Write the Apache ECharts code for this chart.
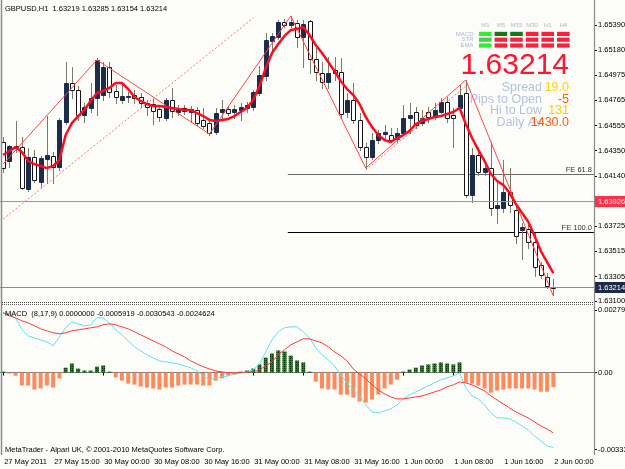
<!DOCTYPE html>
<html><head><meta charset="utf-8">
<script src="https://cdn.jsdelivr.net/npm/echarts@6/dist/echarts.min.js"></script>
<style>html,body{margin:0;padding:0;background:#fcfdf9}#c{width:625px;height:469px}</style>
</head><body><div id="c"></div>
<script>
// ---------- DATA ----------
const barOpen = [1.64420,1.64262,1.64387,1.64378,1.64030,1.64296,1.64088,1.64279,1.64304,1.64213,
1.64586,1.64909,1.64851,1.64644,1.64702,1.64785,1.64809,1.65042,1.64843,1.64768,
1.64789,1.64809,1.64793,1.64743,1.64735,1.64693,1.64619,1.64768,1.64669,1.64702,
1.64669,1.64685,1.64602,1.64577,1.64503,1.64669,1.64693,1.64669,1.64685,1.64702,
1.64710,1.64826,1.64967,1.65257,1.65290,1.65415,1.65390,1.65406,1.65290,1.65423,
1.65108,1.64992,1.64917,1.65017,1.65000,1.64669,1.64768,1.64602,1.64378,1.64296,
1.64436,1.64486,1.64478,1.64445,1.64494,1.64619,1.64669,1.64577,1.64669,1.64627,
1.64669,1.64751,1.64644,1.64702,1.64826,1.63980,1.64312,1.64171,1.64204,1.63873,
1.63873,1.64005,1.63856,1.63690,1.63699,1.63591,1.63400,1.63301,1.63219];
const barHigh = [1.64461,1.64395,1.64594,1.64461,1.64370,1.64354,1.64304,1.64635,1.64337,1.64619,
1.65083,1.65042,1.64884,1.64743,1.64909,1.65116,1.65083,1.65083,1.64892,1.64892,
1.64834,1.64851,1.64826,1.64768,1.64776,1.64727,1.64785,1.64868,1.64727,1.64727,
1.64718,1.64710,1.64702,1.64619,1.64702,1.64768,1.64718,1.64727,1.64743,1.64751,
1.64851,1.65050,1.65323,1.65323,1.65431,1.65440,1.65464,1.65431,1.65431,1.65431,
1.65199,1.65083,1.65125,1.65125,1.65116,1.64826,1.64909,1.64660,1.64412,1.64494,
1.64519,1.64561,1.64536,1.64536,1.64727,1.64743,1.64710,1.64685,1.64710,1.64743,
1.64785,1.64793,1.64702,1.64892,1.64934,1.64370,1.64378,1.64246,1.64420,1.64080,
1.64271,1.64204,1.63898,1.63748,1.63732,1.63665,1.63425,1.63334,1.63285];
const barLow = [1.64171,1.64213,1.64337,1.64030,1.64014,1.64088,1.64047,1.64080,1.64080,1.64188,
1.64569,1.64785,1.64602,1.64586,1.64669,1.64644,1.64768,1.64793,1.64743,1.64743,
1.64751,1.64743,1.64710,1.64644,1.64569,1.64594,1.64602,1.64627,1.64644,1.64652,
1.64586,1.64561,1.64536,1.64478,1.64486,1.64602,1.64644,1.64619,1.64602,1.64669,
1.64685,1.64809,1.64934,1.65183,1.65274,1.65373,1.65373,1.65207,1.65042,1.64992,
1.64934,1.64868,1.64868,1.64934,1.64619,1.64627,1.64577,1.64354,1.64204,1.64279,
1.64412,1.64436,1.64420,1.64420,1.64478,1.64494,1.64536,1.64561,1.64586,1.64611,
1.64660,1.64586,1.64378,1.64685,1.63964,1.63922,1.64146,1.64146,1.63815,1.63748,
1.63840,1.63840,1.63583,1.63450,1.63541,1.63309,1.63292,1.63210,1.63154];
const barClose = [1.64204,1.64387,1.64370,1.64039,1.64296,1.64105,1.64287,1.64312,1.64213,1.64602,
1.64909,1.64851,1.64644,1.64710,1.64785,1.65100,1.65042,1.64834,1.64793,1.64801,
1.64801,1.64785,1.64743,1.64710,1.64677,1.64627,1.64768,1.64677,1.64702,1.64677,
1.64693,1.64577,1.64553,1.64494,1.64660,1.64693,1.64660,1.64693,1.64710,1.64727,
1.64834,1.64975,1.65265,1.65299,1.65415,1.65390,1.65415,1.65290,1.65398,1.65108,
1.65000,1.64917,1.64992,1.64992,1.64652,1.64768,1.64602,1.64378,1.64296,1.64436,
1.64494,1.64503,1.64436,1.64494,1.64619,1.64644,1.64561,1.64619,1.64627,1.64685,
1.64751,1.64619,1.64619,1.64809,1.63980,1.64312,1.64171,1.64204,1.63873,1.63898,
1.64005,1.63898,1.63641,1.63715,1.63591,1.63384,1.63317,1.63226,1.63214];
const emaValues = [1.64312,1.64345,1.64378,1.64337,1.64262,1.64237,1.64221,1.64204,1.64221,1.64271,
1.64478,1.64577,1.64635,1.64685,1.64760,1.64826,1.64843,1.64868,1.64909,1.64909,
1.64859,1.64793,1.64760,1.64735,1.64718,1.64718,1.64710,1.64702,1.64693,1.64685,
1.64685,1.64660,1.64635,1.64602,1.64594,1.64602,1.64611,1.64635,1.64669,1.64702,
1.64768,1.64884,1.65033,1.65158,1.65232,1.65299,1.65348,1.65357,1.65373,1.65307,
1.65224,1.65158,1.65083,1.65008,1.64926,1.64859,1.64809,1.64735,1.64627,1.64544,
1.64478,1.64436,1.64420,1.64453,1.64478,1.64511,1.64569,1.64594,1.64611,1.64627,
1.64635,1.64652,1.64669,1.64702,1.64569,1.64453,1.64354,1.64262,1.64155,1.64097,
1.64063,1.63997,1.63906,1.63831,1.63757,1.63641,1.63516,1.63425,1.63334];
const zigzagBars = [0,15,33,46,58,74,88];
const zigzagPrices = [1.64237,1.65100,1.64486,1.65464,1.64204,1.64934,1.63143];
const channelBars = [[0,40],[58,74]];
const channelPrices = [[1.63781,1.65448],[1.64188,1.64884]];
const feStartBar = 46;
const feLevels = [1.64155,1.63671];
const feNames = ['FE 61.8','FE 100.0'];
const redLevel = 1.63926;
const bidLevel = 1.63214;
const priceTicks = [1.65390,1.65180,1.64975,1.64765,1.64555,1.64350,1.64140,1.63725,1.63515,1.63305,1.63100];

const macdHist = [0.00002,-0.00002,-0.00013,-0.00053,-0.00053,-0.00069,-0.00065,-0.00053,-0.00061,-0.00024,
0.00020,0.00037,0.00016,0.00008,0.00008,0.00024,0.00029,0.00002,-0.00020,-0.00033,
-0.00045,-0.00049,-0.00057,-0.00061,-0.00065,-0.00069,-0.00061,-0.00061,-0.00053,-0.00049,
-0.00049,-0.00049,-0.00053,-0.00053,-0.00033,-0.00024,-0.00012,-0.00008,0.00002,0.00008,
0.00016,0.00033,0.00061,0.00078,0.00090,0.00086,0.00069,0.00049,0.00041,0.00002,
-0.00037,-0.00065,-0.00069,-0.00069,-0.00090,-0.00090,-0.00102,-0.00118,-0.00122,-0.00110,
-0.00090,-0.00065,-0.00049,-0.00029,0.00002,0.00012,0.00020,0.00029,0.00033,0.00037,
0.00041,0.00037,0.00033,0.00041,-0.00041,-0.00045,-0.00053,-0.00065,-0.00082,-0.00073,
-0.00069,-0.00065,-0.00065,-0.00065,-0.00065,-0.00069,-0.00078,-0.00078,-0.0005919];
const macdMain = [0.002437,0.002396,0.002233,0.001743,0.001498,0.001416,0.001335,0.001253,0.001090,0.001457,
0.001825,0.002070,0.001988,0.001906,0.001947,0.002233,0.002233,0.002029,0.001743,0.001539,
0.001294,0.001049,0.000886,0.000723,0.000600,0.000478,0.000437,0.000396,0.000355,0.000273,
0.000192,0.000069,-0.000135,-0.000298,-0.000216,-0.000176,-0.000135,-0.000053,-0.000012,0.000029,
0.000110,0.000355,0.000845,0.001335,0.001661,0.001825,0.001865,0.001865,0.001661,0.001416,
0.001008,0.000723,0.000518,0.000273,-0.000094,-0.000420,-0.000706,-0.000951,-0.001318,-0.001604,
-0.001645,-0.001563,-0.001482,-0.001318,-0.001074,-0.000910,-0.000788,-0.000665,-0.000543,-0.000420,
-0.000298,-0.000216,-0.000135,-0.000012,-0.000625,-0.000951,-0.001074,-0.001318,-0.001645,-0.001849,
-0.001849,-0.001890,-0.002012,-0.002176,-0.002339,-0.002584,-0.002788,-0.002992,-0.0030543];
const macdSignal = [0.002437,0.002314,0.002233,0.002110,0.002029,0.001906,0.001784,0.001702,0.001621,0.001580,
0.001621,0.001702,0.001743,0.001784,0.001825,0.001865,0.001947,0.001988,0.001947,0.001865,
0.001784,0.001661,0.001539,0.001416,0.001294,0.001172,0.001049,0.000886,0.000763,0.000641,
0.000478,0.000355,0.000233,0.000151,0.000069,0.000029,-0.000012,-0.000012,-0.000012,0.000029,
0.000029,0.000110,0.000273,0.000437,0.000723,0.000927,0.001131,0.001253,0.001376,0.001376,
0.001294,0.001212,0.001049,0.000845,0.000682,0.000478,0.000151,-0.000053,-0.000257,-0.000502,
-0.000706,-0.000869,-0.000992,-0.001074,-0.001074,-0.001033,-0.000992,-0.000951,-0.000869,-0.000788,
-0.000706,-0.000584,-0.000502,-0.000380,-0.000420,-0.000502,-0.000625,-0.000747,-0.000951,-0.001114,
-0.001278,-0.001441,-0.001604,-0.001727,-0.001849,-0.002012,-0.002176,-0.002298,-0.0024624];
const macdTickLabels = ['0.002796','0.00','-0.003334'];
const macdTickAt = [0.002552,0,-0.003135];

const timeLabels = ['27 May 2011','27 May 15:00','30 May 00:00','30 May 08:00','30 May 16:00','31 May 00:00',
'31 May 08:00','31 May 16:00','1 Jun 00:00','1 Jun 08:00','1 Jun 16:00','2 Jun 00:00'];
const labelStep = 8;
const slotCount = 95;

const panelCols = ['M1','M5','M15','M30','H1','H4'];
const panelRows = ['MACD','STR','EMA'];
const panelStates = [[2,1,1,-1,-1,-1],[3,-1,-1,-1,-1,-1],[2,-1,-1,-1,-1,-1]];
const infoLabels = ['Spread','Pips to Open','Hi to Low','Daily Av'];
const infoValues = ['19.0','-5','131','1430.0'];

// ---------- BUILD ----------
const FONT = '"Liberation Sans", Arial, sans-serif';
const cats = Array.from({length: slotCount}, (_, i) => String(i));
const nBars = barOpen.length;
const candleData = barOpen.map((o, i) => [i, o, barClose[i], barLow[i], barHigh[i]]);
const zigzag = new Array(nBars).fill(null);
zigzagBars.forEach((b, k) => { zigzag[b] = zigzagPrices[k]; });
const channels = channelBars.map((bars, k) => {
  const arr = new Array(nBars).fill(null);
  arr[bars[0]] = channelPrices[k][0]; arr[bars[1]] = channelPrices[k][1];
  return arr;
});
const histPos = macdHist.map(v => v >= 0 ? v : '-');
const histNeg = macdHist.map(v => v < 0 ? v : '-');
const cellData = [];
panelStates.forEach((row, r) => row.forEach((s, c) => cellData.push([c, r, s])));
const stateColors = {'2': '#2cf02c', '3': '#46d246', '1': '#137a17', '-1': '#ff1e3c'};

function renderCandle(params, api) {
  const i = api.value(0), o = api.value(1), c = api.value(2), l = api.value(3), h = api.value(4);
  const po = api.coord([i, o]);
  const cx = Math.round(po[0]) + 0.5;
  const yo = Math.round(po[1]) + 0.5;
  const yc = Math.round(api.coord([i, c])[1]) + 0.5;
  const yh = Math.round(api.coord([i, h])[1]);
  const yl = Math.round(api.coord([i, l])[1]) + 1;
  const bull = c > o;
  const top = Math.min(yo, yc), hgt = Math.abs(yo - yc);
  return {type: 'group', children: [
    {type: 'line', shape: {x1: cx, y1: yh, x2: cx, y2: yl}, style: {stroke: '#7a7a6a', lineWidth: 1}},
    {type: 'rect', shape: {x: cx - 2, y: top, width: 4, height: hgt},
     style: {fill: bull ? '#1c2c4c' : '#ffffff', stroke: bull ? '#1c2c4c' : '#151515', lineWidth: 1}}
  ]};
}
function renderLevel(params, api) {
  const idx = api.value(2);
  const p = api.coord([api.value(0), api.value(1)]);
  const right = params.coordSys.x + params.coordSys.width;
  const y = Math.round(p[1]) + 0.5;
  const col = idx === 0 ? '#6a6a6a' : '#000000';
  return {type: 'group', children: [
    {type: 'line', shape: {x1: p[0] - 3, y1: y, x2: right, y2: y}, style: {stroke: col, lineWidth: 1}},
    {type: 'text', style: {text: feNames[idx], x: right - 2, y: y - 1, align: 'right', verticalAlign: 'bottom',
      textAlign: 'right', textVerticalAlign: 'bottom', fill: '#333', font: '7.5px ' + FONT}}
  ]};
}
function renderCell(params, api) {
  const p = api.coord([api.value(0), api.value(1)]);
  const s = api.size([1, 1]);
  const w = s[0] - 3, h = s[1] - 1.6;
  return {type: 'rect', shape: {x: p[0] - w / 2, y: p[1] - h / 2, width: w, height: h},
    style: {fill: stateColors[String(api.value(2))]}};
}

const tickShow = (i) => i % labelStep === 0 && i < nBars;
const gText = (text, x, y, opts) => Object.assign({type: 'text', z: 100, x: x, y: y,
  style: Object.assign({text: text, fill: '#000', font: '7.5px ' + FONT, align: 'left', verticalAlign: 'middle',
    textAlign: 'left', textVerticalAlign: 'middle'}, opts || {})});

const graphics = [
  {type: 'line', z: 90, shape: {x1: 1.5, y1: 0, x2: 1.5, y2: 455}, style: {stroke: '#8a8a8a', lineWidth: 1.5}},
  {type: 'line', z: 90, shape: {x1: 594.5, y1: 0, x2: 594.5, y2: 455}, style: {stroke: '#8a8a8a', lineWidth: 1.2}},
  {type: 'line', z: 90, shape: {x1: 2, y1: 302.5, x2: 594, y2: 302.5}, style: {stroke: '#404040', lineWidth: 1, lineDash: [1, 1]}},
  {type: 'line', z: 90, shape: {x1: 2, y1: 304.5, x2: 594, y2: 304.5}, style: {stroke: '#606060', lineWidth: 1, lineDash: [1, 1]}},
  gText('GBPUSD,H1  ' + [barOpen[nBars-1], barHigh[nBars-1], barLow[nBars-1], barClose[nBars-1]].map(v => v.toFixed(5)).join(' '), 5, 8.5),
  gText('MACD  (8,17,9) 0.0000000 ' + [macdHist[nBars-1], macdMain[nBars-1], macdSignal[nBars-1]].map(v => v.toFixed(7)).join(' '), 5, 313.5),
  gText('MetaTrader - Alpari UK, \u00a9 2001-2010 MetaQuotes Software Corp.', 5, 449.5),
  gText(barClose[nBars-1].toFixed(5), 569, 66, {fill: '#ff1430', font: '30px ' + FONT, align: 'right', textAlign: 'right'})
];
const valueColors = ['#ffd000', '#ff5a14', '#ffcc00', '#ff5a14'];
infoLabels.forEach((t, k) => {
  graphics.push(gText(t, 542, 88 + k * 11.5, {fill: '#b4c2dc', font: '12.5px ' + FONT, align: 'right', textAlign: 'right'}));
});
infoValues.forEach((t, k) => {
  graphics.push(gText(t, 569, 88 + k * 11.5, {fill: valueColors[k], font: '12.5px ' + FONT, align: 'right', textAlign: 'right'}));
});

const option = {
  animation: false,
  backgroundColor: '#fcfdf9',
  textStyle: {fontFamily: FONT},
  grid: [
    {left: 0, top: 0, width: 594, height: 302, containLabel: false, outerBoundsMode: 'none'},
    {left: 0, top: 304, width: 594, height: 150.5, containLabel: false, outerBoundsMode: 'none'},
    {left: 477.5, top: 31, width: 93.6, height: 17.4, containLabel: false, outerBoundsMode: 'none'}
  ],
  xAxis: [
    {gridIndex: 0, type: 'category', data: cats, boundaryGap: true, show: false},
    {gridIndex: 1, type: 'category', data: cats, boundaryGap: true,
     axisLine: {show: true, lineStyle: {color: '#7a7a7a', width: 1}},
     axisTick: {show: true, alignWithLabel: true, interval: tickShow, length: 3, lineStyle: {color: '#000'}},
     axisLabel: {show: true, interval: tickShow, formatter: (v) => timeLabels[Number(v) / labelStep] || '',
       align: 'left', padding: [0, 0, 0, 1], margin: 3.5, fontSize: 7.5, color: '#000', fontFamily: FONT},
     splitLine: {show: false}},
    {gridIndex: 2, type: 'category', data: panelCols, position: 'top',
     axisLine: {show: false}, axisTick: {show: false},
     axisLabel: {interval: 0, fontSize: 6, color: '#a9b6d3', margin: 3, fontFamily: FONT}}
  ],
  yAxis: [
    {gridIndex: 0, type: 'value', position: 'right', min: 1.63094, max: 1.65597,
     splitLine: {show: false},
     axisLine: {show: true, lineStyle: {color: '#8a8a8a'}},
     axisTick: {show: true, length: 3, customValues: priceTicks, lineStyle: {color: '#000'}},
     axisLabel: {customValues: priceTicks, formatter: (v) => v.toFixed(5), fontSize: 7.5, color: '#000', margin: 4, fontFamily: FONT}},
    {gridIndex: 1, type: 'value', position: 'right', min: -0.00334, max: 0.002796,
     splitLine: {show: false},
     axisLine: {show: true, lineStyle: {color: '#8a8a8a'}},
     axisTick: {show: true, length: 3, customValues: macdTickAt, lineStyle: {color: '#000'}},
     axisLabel: {customValues: macdTickAt, formatter: (v) => {
        const k = macdTickAt.findIndex(t => Math.abs(t - v) < 1e-7); return k >= 0 ? macdTickLabels[k] : ''; },
       fontSize: 7.5, color: '#000', margin: 4, fontFamily: FONT}},
    {gridIndex: 2, type: 'category', data: panelRows, inverse: true,
     axisLine: {show: false}, axisTick: {show: false},
     axisLabel: {interval: 0, fontSize: 6, color: '#a9b6d3', margin: 4, fontFamily: FONT}}
  ],
  graphic: graphics,
  series: [
    {type: 'line', name: 'chan0', xAxisIndex: 0, yAxisIndex: 0, data: channels[0], connectNulls: true, showSymbol: false, silent: true,
     lineStyle: {color: '#ff6f6f', width: 1, type: [2, 2]}, z: 2},
    {type: 'line', name: 'chan1', xAxisIndex: 0, yAxisIndex: 0, data: channels[1], connectNulls: true, showSymbol: false, silent: true,
     lineStyle: {color: '#ff6f6f', width: 1, type: [2, 2]}, z: 2},
    {type: 'custom', name: 'fe', xAxisIndex: 0, yAxisIndex: 0, data: feLevels.map((v, k) => [feStartBar, v, k]),
     renderItem: renderLevel, silent: true, z: 2},
    {type: 'custom', name: 'candles', xAxisIndex: 0, yAxisIndex: 0, data: candleData, renderItem: renderCandle,
     encode: {x: 0, y: [1, 2, 3, 4]}, silent: true, z: 3},
    {type: 'line', name: 'zigzag', xAxisIndex: 0, yAxisIndex: 0, data: zigzag, connectNulls: true, showSymbol: false, silent: true,
     lineStyle: {color: '#ff4545', width: 1}, z: 4},
    {type: 'line', name: 'ema', xAxisIndex: 0, yAxisIndex: 0, data: emaValues, showSymbol: false, silent: true,
     lineStyle: {color: '#ff0a1e', width: 2.5}, z: 5,
     markLine: {symbol: ['none', 'none'], silent: true, animation: false, precision: 5,
       data: [
         {yAxis: redLevel, lineStyle: {color: '#ff6a6a', width: 1, type: 'solid'},
          label: {show: true, position: 'end', distance: 1, formatter: (p) => Number(p.value).toFixed(5), color: '#fff',
            backgroundColor: '#ff3048', padding: [2, 3, 1, 3], fontSize: 7.5, fontFamily: FONT}},
         {yAxis: bidLevel, lineStyle: {color: '#8c8c8c', width: 1, type: 'solid'},
          label: {show: true, position: 'end', distance: 1, formatter: (p) => Number(p.value).toFixed(5), color: '#fff',
            backgroundColor: '#1e2b46', padding: [2, 3, 1, 3], fontSize: 7.5, fontFamily: FONT}}
       ]}},
    {type: 'bar', name: 'histPos', xAxisIndex: 1, yAxisIndex: 1, data: histPos, barWidth: 4, barGap: '-100%', barMinHeight: 1, silent: true,
     itemStyle: {color: '#128a12', decal: {symbol: 'rect', symbolSize: 1, color: 'rgba(0,30,0,0.75)', dashArrayX: [1, 1], dashArrayY: [1, 1]}}},
    {type: 'bar', name: 'histNeg', xAxisIndex: 1, yAxisIndex: 1, data: histNeg, barWidth: 4, barGap: '-100%', barMinHeight: 1, silent: true,
     itemStyle: {color: '#ff8a5c'}},
    {type: 'line', name: 'macd', xAxisIndex: 1, yAxisIndex: 1, data: macdMain, showSymbol: false, silent: true,
     lineStyle: {color: '#5fe3f3', width: 1}, z: 4},
    {type: 'line', name: 'signal', xAxisIndex: 1, yAxisIndex: 1, data: macdSignal, showSymbol: false, silent: true,
     lineStyle: {color: '#ff3a3a', width: 1}, z: 4},
    {type: 'custom', name: 'panel', xAxisIndex: 2, yAxisIndex: 2, data: cellData, renderItem: renderCell, silent: true, z: 50}
  ]
};
const chart = echarts.init(document.getElementById('c'), null, {renderer: 'canvas'});
chart.setOption(option);
</script>
</body></html>
